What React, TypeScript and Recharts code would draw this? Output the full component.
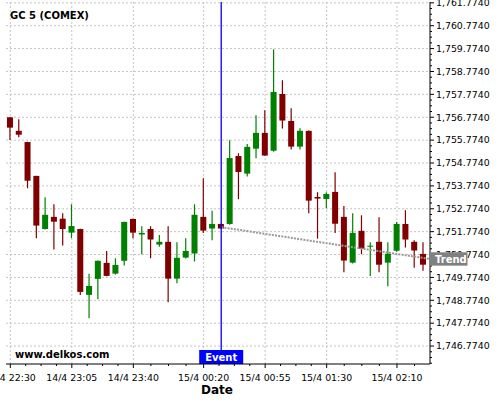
import React from "react";
import {
  ComposedChart,
  Bar,
  Line,
  XAxis,
  YAxis,
  CartesianGrid,
  ReferenceLine,
} from "recharts";

// 5-minute candles, 14/4 22:30 -> 15/4 02:25
const OPEN = [
  1756.77, 1756.18, 1755.69, 1754.21, 1751.89, 1752.42, 1752.34, 1751.73, 1751.89, 1749.01,
  1749.71, 1750.41, 1749.94, 1750.5, 1752.33, 1751.65, 1751.89, 1751.21, 1751.33, 1749.72,
  1750.64, 1750.82, 1752.42, 1751.91, 1752.11, 1752.11, 1755.08, 1754.31, 1755.4, 1756.09,
  1755.31, 1757.79, 1756.61, 1755.49, 1756.18, 1753.29, 1753.2, 1753.51, 1752.42, 1750.42,
  1751.81, 1751.12, 1751.33, 1750.42, 1750.94, 1752.11, 1751.33, 1750.8,
];
const HIGH = [
  1756.78, 1756.69, 1755.7, 1754.22, 1753.28, 1752.97, 1752.58, 1752.97, 1751.9, 1749.93,
  1750.51, 1750.93, 1750.61, 1752.21, 1752.34, 1752.01, 1752.01, 1751.63, 1752.01, 1751.31,
  1751.49, 1752.97, 1754.11, 1752.69, 1752.12, 1755.77, 1755.2, 1755.6, 1756.86, 1757.08,
  1759.74, 1758.39, 1757.17, 1756.29, 1756.19, 1753.5, 1753.5, 1754.37, 1752.89, 1752.58,
  1752.49, 1751.31, 1752.4, 1751.31, 1752.2, 1752.71, 1751.4, 1751.31,
];
const LOW = [
  1755.78, 1755.9, 1753.67, 1751.49, 1751.87, 1750.99, 1751.17, 1751.49, 1749.0, 1747.99,
  1748.82, 1749.82, 1749.9, 1750.29, 1751.49, 1750.79, 1750.61, 1751.11, 1748.69, 1749.52,
  1750.6, 1750.47, 1751.72, 1751.4, 1751.9, 1752.07, 1753.19, 1754.18, 1754.98, 1755.09,
  1755.27, 1756.28, 1755.36, 1755.36, 1752.58, 1751.47, 1752.8, 1751.71, 1750.0, 1750.38,
  1750.79, 1749.84, 1750.0, 1749.39, 1750.9, 1751.08, 1750.2, 1750.07,
];
const CLOSE = [
  1756.32, 1756.01, 1754.0, 1752.04, 1752.51, 1752.21, 1751.89, 1752.02, 1749.14, 1749.4,
  1750.5, 1749.84, 1750.32, 1752.2, 1751.73, 1751.72, 1751.43, 1751.33, 1749.72, 1750.63,
  1750.93, 1752.51, 1751.82, 1752.11, 1751.91, 1754.99, 1754.38, 1755.48, 1756.09, 1755.1,
  1757.88, 1756.63, 1755.49, 1756.18, 1753.13, 1753.22, 1753.42, 1752.12, 1750.51, 1751.72,
  1751.03, 1751.16, 1750.33, 1750.81, 1752.11, 1751.43, 1750.95, 1750.33,
];

// x axis: candle index of labelled ticks
const X_MAJOR = [0, 7, 14, 22, 29, 36, 44];
const X_LABELS = ["14/4 22:30", "14/4 23:05", "14/4 23:40", "15/4 00:20", "15/4 00:55", "15/4 01:30", "15/4 02:10"];
const X_MINOR = [1.75, 3.5, 5.25, 8.75, 10.5, 12.25, 16, 18, 20, 23.75, 25.5, 27.25, 30.75, 32.5, 34.25, 38, 40, 42, 46];

const Y_MAJOR = [
  1746.774, 1747.774, 1748.774, 1749.774, 1750.774, 1751.774, 1752.774, 1753.774,
  1754.774, 1755.774, 1756.774, 1757.774, 1758.774, 1759.774, 1760.774, 1761.774,
];
const Y_MINOR = [1746.024, 1746.274, 1746.524].concat(
  ...Y_MAJOR.slice(0, -1).map((v) => [v + 0.25, v + 0.5, v + 0.75])
);
const Y_DOMAIN = [1745.99, 1761.81];
const Y_WIDTH = 69;

const EVENT_INDEX = 24;
const TREND = [
  { i: 24, v: 1751.97 },
  { i: 47.76, v: 1750.58 },
];
const TREND_END = TREND[TREND.length - 1].v;

const data = OPEN.map((o, i) => ({ i, open: o, high: HIGH[i], low: LOW[i], close: CLOSE[i] }));

const FONT = "DejaVu Sans";
const UP = "#008000";
const DOWN = "#800000";

const Candle = (props: any) => {
  const { x, y, width, height, payload } = props;
  const { open, close, high, low } = payload;
  const top = Math.min(y, y + height);
  const h = Math.abs(height);
  const ppu = high > low ? h / (high - low) : 0;
  const py = (v: number) => top + (high - v) * ppu;
  const color = close >= open ? UP : DOWN;
  const cx = x + width / 2;
  const bTop = py(Math.max(open, close));
  const bH = Math.max(1, py(Math.min(open, close)) - bTop);
  return (
    <g>
      <line x1={cx} x2={cx} y1={top} y2={top + h} stroke={color} strokeWidth={1.2} />
      <rect x={x} y={bTop} width={width} height={bH} fill={color} />
    </g>
  );
};

const isMajorY = (v: number) => Y_MAJOR.some((m) => Math.abs(m - v) < 1e-6);

const YTick = (props: any) => {
  const { x, y, payload } = props;
  const major = isMajorY(payload.value);
  return (
    <g>
      <line x1={x} x2={x + (major ? 4 : 2)} y1={y} y2={y} stroke="#000" />
      {major && (
        <text x={x + 6} y={y} dy="0.35em" fontSize={9.4} fontFamily={FONT} fill="#000">
          {payload.value.toLocaleString("en-US", { minimumFractionDigits: 4, maximumFractionDigits: 4 })}
        </text>
      )}
    </g>
  );
};

// trend tag: drawn by an extra 1px right axis (rendered after the price axis, so it sits on top)
const TrendTick = (props: any) => {
  const { x, y } = props;
  const left = x - Y_WIDTH;
  return (
    <g>
      <rect x={left} y={y - 6.7} width={37.5} height={13.4} fill="#808080" />
      <text x={left + 5} y={y + 3.7} fontSize={10} fontWeight="bold" fontFamily={FONT} fill="#fff">
        Trend
      </text>
    </g>
  );
};

const XTick = (props: any) => {
  const { x, y, payload } = props;
  const k = X_MAJOR.indexOf(payload.value);
  return (
    <g>
      <line x1={x} x2={x} y1={y} y2={y + (k >= 0 ? 4 : 2)} stroke="#000" />
      {k >= 0 && (
        <text x={x} y={y + 16.5} textAnchor="middle" fontSize={9.4} fontFamily={FONT} fill="#000">
          {X_LABELS[k]}
        </text>
      )}
    </g>
  );
};

export default function App() {
  return (
    <div style={{ position: "absolute", left: 0, top: 0, width: 500, height: 400, background: "#fff" }}>
      <ComposedChart width={500} height={400} data={data} margin={{ top: 2, right: 0, bottom: 0, left: 6 }}>
        <CartesianGrid
          stroke="#c4c4c4"
          strokeDasharray="2 2"
          horizontalValues={Y_MAJOR}
          verticalValues={X_MAJOR}
        />
        <XAxis
          dataKey="i"
          type="number"
          domain={[-0.49, 47.76]}
          allowDataOverflow
          ticks={[...X_MAJOR, ...X_MINOR].sort((a, b) => a - b)}
          interval={0}
          tickSize={0}
          tickMargin={0}
          tickLine={false}
          tick={<XTick />}
          axisLine={{ stroke: "#000" }}
          height={36}
          label={(p: any) => (
            <text
              x={p.viewBox.x + p.viewBox.width / 2 - 1}
              y={p.viewBox.y + 30}
              textAnchor="middle"
              fontSize={12}
              fontWeight="bold"
              fontFamily={FONT}
              fill="#000"
            >
              Date
            </text>
          )}
        />
        <YAxis
          orientation="right"
          type="number"
          domain={Y_DOMAIN}
          allowDataOverflow
          ticks={[...Y_MINOR, ...Y_MAJOR].sort((a, b) => a - b)}
          interval={0}
          tickSize={0}
          tickMargin={0}
          tickLine={false}
          tick={<YTick />}
          axisLine={{ stroke: "#000" }}
          width={Y_WIDTH}
        />
        <YAxis
          yAxisId="trend"
          orientation="right"
          type="number"
          domain={Y_DOMAIN}
          allowDataOverflow
          ticks={[TREND_END]}
          interval={0}
          tickSize={0}
          tickMargin={0}
          tickLine={false}
          axisLine={false}
          tick={<TrendTick />}
          width={1}
        />
        <Line
          yAxisId="trend"
          data={TREND}
          dataKey="v"
          stroke="#999999"
          strokeWidth={2}
          strokeDasharray="2 1.2"
          dot={false}
          isAnimationActive={false}
        />
        <Bar
          dataKey={(d: any) => [d.low, d.high]}
          barSize={7}
          shape={<Candle />}
          isAnimationActive={false}
        />
        <ReferenceLine
          x={EVENT_INDEX}
          stroke="#0000ff"
          strokeWidth={1.3}
          label={(p: any) => {
            const vb = p.viewBox;
            const bottom = vb.y + vb.height;
            return (
              <g>
                <rect x={vb.x - 22} y={bottom - 14} width={44} height={14} fill="#0000ff" />
                <text x={vb.x} y={bottom - 3.3} textAnchor="middle" fontSize={10} fontWeight="bold" fontFamily={FONT} fill="#fff">
                  Event
                </text>
              </g>
            );
          }}
        />
        <text x={10} y={19.3} fontSize={10} fontWeight="bold" fontFamily={FONT} fill="#000">
          GC 5 (COMEX)
        </text>
        <text x={15} y={357.5} fontSize={10} fontWeight="bold" fontFamily={FONT} fill="#000">
          www.delkos.com
        </text>
      </ComposedChart>
    </div>
  );
}
